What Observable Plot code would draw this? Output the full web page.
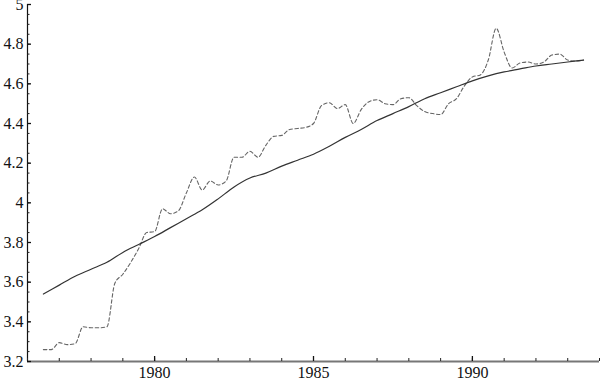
<!DOCTYPE html>
<html><head><meta charset="utf-8">
<script src="https://cdn.jsdelivr.net/npm/d3@7"></script>
<script src="https://cdn.jsdelivr.net/npm/@observablehq/plot@0.6"></script>
<style>body{margin:0;background:#fff} svg text{font-family:'Liberation Serif','Times New Roman',serif !important}</style>
</head><body><div id="chart"></div>
<script>
const trendYears = [1976.5,1977,1977.5,1978,1978.5,1979,1979.5,1980,1980.5,1981,1981.5,1982,1982.5,1983,1983.5,1984,1984.5,1985,1985.5,1986,1986.5,1987,1987.5,1988,1988.5,1989,1989.5,1990,1990.5,1991,1991.5,1992,1992.5,1993,1993.5];
const trendValues = [3.54,3.585,3.63,3.665,3.70,3.75,3.79,3.83,3.875,3.92,3.965,4.02,4.08,4.125,4.15,4.185,4.215,4.245,4.285,4.33,4.37,4.415,4.45,4.485,4.525,4.555,4.585,4.615,4.64,4.66,4.675,4.69,4.70,4.71,4.72];
const seriesYears = [1976.5,1976.75,1977,1977.25,1977.5,1977.75,1978,1978.25,1978.5,1978.75,1979,1979.25,1979.5,1979.75,1980,1980.25,1980.5,1980.75,1981,1981.25,1981.5,1981.75,1982,1982.25,1982.5,1982.75,1983,1983.25,1983.5,1983.75,1984,1984.25,1984.5,1984.75,1985,1985.25,1985.5,1985.75,1986,1986.25,1986.5,1986.75,1987,1987.25,1987.5,1987.75,1988,1988.25,1988.5,1988.75,1989,1989.25,1989.5,1989.75,1990,1990.25,1990.5,1990.75,1991,1991.25,1991.5,1991.75,1992,1992.25,1992.5,1992.75,1993,1993.25,1993.5];
const seriesValues = [3.26,3.26,3.295,3.285,3.29,3.375,3.37,3.37,3.375,3.595,3.64,3.70,3.77,3.85,3.855,3.97,3.945,3.96,4.05,4.13,4.065,4.11,4.09,4.11,4.23,4.23,4.26,4.23,4.29,4.335,4.34,4.37,4.375,4.38,4.40,4.49,4.505,4.475,4.495,4.40,4.47,4.51,4.52,4.50,4.495,4.525,4.53,4.49,4.46,4.45,4.445,4.50,4.525,4.59,4.635,4.645,4.72,4.88,4.76,4.68,4.705,4.71,4.70,4.71,4.745,4.75,4.72,4.715,4.72];
const xMajorTicks = [1980,1985,1990];
const xMinorTicks = d3.range(1976,1995,1);
const yMajorTicks = [3.2,3.4,3.6,3.8,4,4.2,4.4,4.6,4.8,5];
const yMinorTicks = d3.range(64,101,1).map(d=>d*0.05);

const trend = trendYears.map((x,i)=>({x, y: trendValues[i]}));
const series = seriesYears.map((x,i)=>({x, y: seriesValues[i]}));
const fmt = d => String(+(+d).toFixed(1));

const chart = Plot.plot({
  width: 600, height: 380,
  marginLeft: 27, marginRight: 1, marginTop: 4, marginBottom: 19,
  style: {fontFamily: "'Liberation Serif', serif", fontSize: "16px", background: "#fff", color: "#111", overflow: "visible"},
  x: {domain: [1976, 1994], axis: null, label: null},
  y: {domain: [3.2, 5], axis: null, label: null},
  marks: [
    Plot.line(series, {x: "x", y: "y", curve: "monotone-x", stroke: "#666", strokeWidth: 1.1, strokeDasharray: "3.5,2.5"}),
    Plot.line(trend, {x: "x", y: "y", curve: "catmull-rom", stroke: "#333", strokeWidth: 1.2}),
    Plot.ruleY([3.2], {stroke: "#777", strokeWidth: 2.2}),
    Plot.ruleX([1976], {stroke: "#111", strokeWidth: 1.2}),
    Plot.axisX({ticks: xMinorTicks, tickSize: 3, dy: -3, text: null, label: null, stroke: "#222"}),
    Plot.axisX({ticks: xMajorTicks, tickSize: 5, dy: -5, text: null, label: null, stroke: "#111", strokeWidth: 1.3}),
    Plot.axisX({ticks: xMajorTicks, tickSize: 0, tickPadding: 5, label: null, tickFormat: d => String(d), fontSize: 16, fill: "#111"}),
    Plot.axisY({ticks: yMinorTicks, tickSize: 2.5, dx: 2.5, text: null, label: null, stroke: "#222"}),
    Plot.axisY({ticks: yMajorTicks, tickSize: 4, dx: 4, text: null, label: null, stroke: "#111", strokeWidth: 1.3}),
    Plot.axisY({ticks: yMajorTicks, tickSize: 0, tickPadding: 4, label: null, tickFormat: fmt, fontSize: 16, fill: "#111"})
  ]
});
document.getElementById("chart").appendChild(chart);
</script>
</body></html>
